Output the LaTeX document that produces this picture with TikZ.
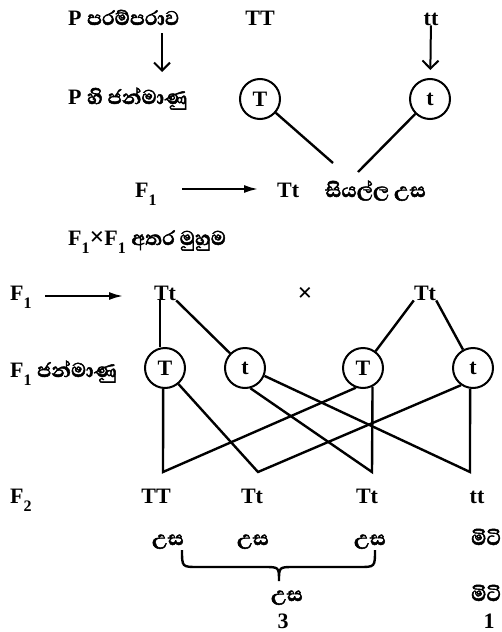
\documentclass[tikz,border=0pt]{standalone}
\usepackage{fontspec}
\setmainfont{Liberation Serif}
\newfontfamily\sinfont[Script=Sinhala, FakeBold=2, Scale=1.15]{Abhaya Libre}
\usetikzlibrary{arrows.meta}
\newcommand{\Fs}[1]{F\raisebox{-0.4em}{\fontsize{16}{16}\selectfont #1}}
\newcommand{\bx}{{\fontsize{26}{26}\selectfont ×}}

\begin{document}
\begin{tikzpicture}[x=1pt, y=-1pt, font=\fontsize{22}{26}\selectfont\bfseries,
    lbl/.style={inner sep=0pt, anchor=base west},
    txt/.style={inner sep=0pt, anchor=base},
    gam/.style={circle, draw, line width=2pt, minimum size=40pt, inner sep=0pt},
    ln/.style={line width=2.4pt},
    darr/.style={line width=2pt, -{Straight Barb[length=8pt,width=16pt]}},
    rarr/.style={line width=2pt, -{Latex[length=14pt,width=8pt]}}]
  \useasboundingbox[fill=white] (0,0) rectangle (501,632);
  % parents
  \node[lbl] (pgen) at (68,25) {P {\sinfont පරම්පරාව}};
  \node[txt] (pTT) at (260,25) {TT};
  \node[txt] (ptt) at (431,25) {tt};
  \node[lbl] (pgam) at (68,104) {P {\sinfont හි ජන්මාණු}};
  \node[gam] (gT) at (260,99) {T};
  \node[gam] (gt) at (430,99) {t};
  \coordinate (a1) at (162,33);
  \coordinate (a2) at (162,72);
  \draw[darr] (a1) -- (a2);
  \draw[darr, shorten >=8pt] (ptt) -- (gt);
  % F1
  \node[lbl] (f1a) at (135,197) {\Fs{1}};
  \node[lbl] (tta) at (277,197) {Tt};
  \node[lbl] (all) at (325,197) {\sinfont සියල්ල උස};
  \draw[rarr] (182,189) -- (258,189);
  \coordinate (j1) at (333,163);
  \coordinate (j2) at (358,172);
  \draw[ln] (gT) -- (j1);
  \draw[ln] (gt) -- (j2);
  % F1 x F1
  \node[lbl] (cross) at (68,245) {\Fs{1}\bx\Fs{1} {\sinfont අතර මුහුම}};
  \node[lbl] (f1b) at (10,300) {\Fs{1}};
  \coordinate (b1) at (45,296);
  \coordinate (b2) at (123,296);
  \draw[rarr] (b1) -- (b2);
  \node[txt] (ttl) at (165,300) {Tt};
  \node[txt] (x) at (305,301) {\bx};
  \node[txt] (ttr) at (425,300) {Tt};
  % F1 gametes
  \node[lbl] (f1g) at (10,377) {\Fs{1} {\sinfont ජන්මාණු}};
  \node[gam] (T1) at (165,368) {T};
  \node[gam] (t1) at (245,368) {t};
  \node[gam] (T2) at (363,368) {T};
  \node[gam] (t2) at (473,368) {t};
  \draw[ln] (ttl.south -| 160,0) -- (T1.north -| 160,0);
  \draw[ln] (ttl.south east) -- (t1);
  \draw[ln] (ttr.south west) -- (T2);
  \draw[ln] (ttr.south east) -- (t2);
  % F2
  \coordinate (v1) at (163,472);
  \coordinate (v2) at (258,472);
  \coordinate (v3) at (372,472);
  \coordinate (v4) at (470,472);
  \draw[ln] (T1.-95) -- (v1) -- (T2.-110);
  \draw[ln] (T1.-50) -- (v2) -- (t2.-125);
  \draw[ln] (t1.-75) -- (v3) -- (T2.-63);
  \draw[ln] (t1.-22) -- (v4) -- (t2.-98);
  \node[lbl] (f2) at (10,503) {\Fs{2}};
  \node[txt] (o1) at (156,503) {TT};
  \node[txt] (o2) at (252,503) {Tt};
  \node[txt] (o3) at (367,503) {Tt};
  \node[txt] (o4) at (477,503) {tt};
  \node[txt] (u1) at (168,545) {\sinfont උස};
  \node[txt] (u2) at (253,545) {\sinfont උස};
  \node[txt] (u3) at (370,545) {\sinfont උස};
  \node[lbl] (s1) at (471,545) {\sinfont මිටි};
  \draw[ln] (182,550) .. controls (182,567) .. (198,567) -- (264,567)
    .. controls (279,567) .. (279,581) .. controls (279,567) .. (294,567)
    -- (359,567) .. controls (375,567) .. (375,550);
  \node[txt] (u4) at (287,601) {\sinfont උස};
  \node[txt] (n3) at (283,628) {3};
  \node[lbl] (s2) at (471,601) {\sinfont මිටි};
  \node[txt] (n1) at (489,628) {1};
\end{tikzpicture}
\end{document}
